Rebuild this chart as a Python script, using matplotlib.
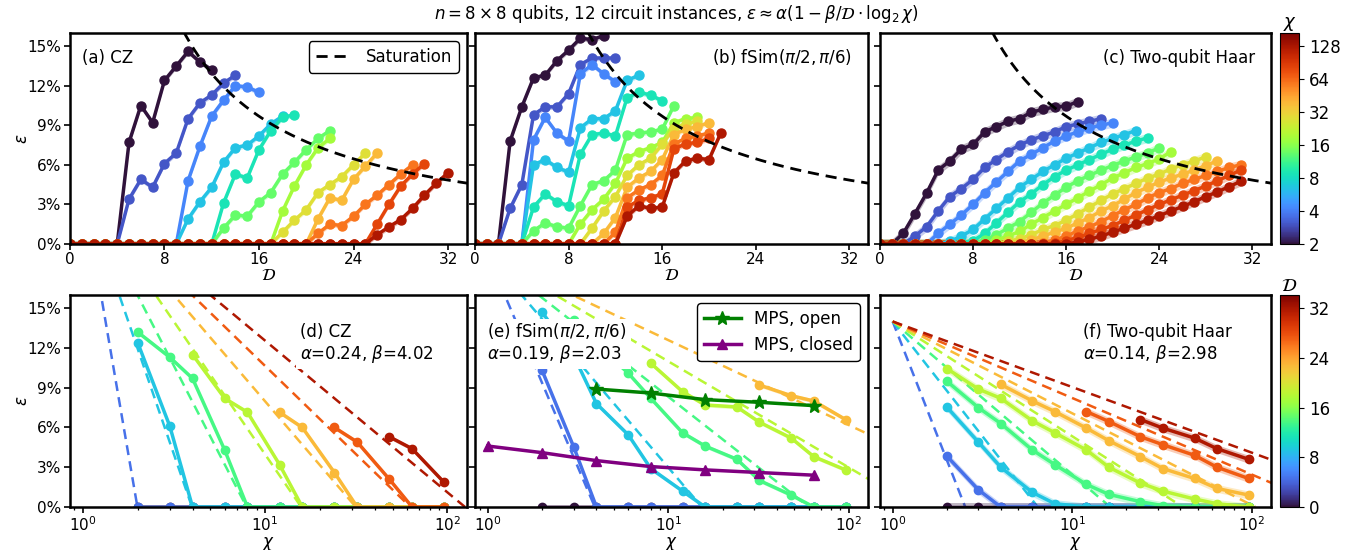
import numpy as np
import matplotlib
matplotlib.use("Agg")
import matplotlib.pyplot as plt
from matplotlib.colors import Normalize, LogNorm
from matplotlib.ticker import FuncFormatter, NullFormatter

plt.rcParams['font.size'] = 12
plt.rcParams['mathtext.fontset'] = 'dejavusans'

chis = [2, 3, 4, 6, 8, 12, 16, 24, 32, 48, 64, 96]

# top row: error in %, one curve per chi, starting at depth "onset" (zeros before)
cz_onset = [5, 5, 10, 10, 13, 13, 18, 18, 21, 21, 26, 26]
cz_vals = [
    [7.7, 10.5, 9.2, 12.4, 13.5, 14.6, 13.8, 13.2],
    [3.4, 4.9, 4.3, 6.1, 6.9, 9.5, 10.7, 11.3, 12.2, 12.8],
    [4.8, 7.4, 9.7, 10.9, 12.0, 11.9, 11.5],
    [1.9, 3.2, 4.3, 6.2, 7.3, 7.5, 8.2, 9.1, 9.7],
    [3.1, 5.3, 5.0, 7.15, 8.6, 9.6, 9.8],
    [1.2, 2.2, 2.1, 3.2, 3.9, 5.3, 6.2, 7.15, 8.0, 8.6],
    [2.5, 4.4, 6.0, 7.3, 8.0],
    [0.9, 1.8, 2.6, 3.9, 4.5, 5.1, 6.0, 6.9],
    [1.9, 3.5, 3.3, 4.9, 5.9, 6.9],
    [0.8, 1.5, 1.4, 2.1, 3.0, 3.7, 4.5, 5.3, 6.0],
    [1.5, 3.0, 4.4, 5.3, 6.1],
    [0.7, 1.3, 1.85, 2.7, 3.7, 4.6, 5.4],
]

fsim_onset = [3, 3, 5, 5, 5, 5, 9, 10, 11, 12, 13, 13]
fsim_vals = [
    [7.8, 10.4, 12.6, 12.8, 13.9, 14.7, 15.6, 15.5, 15.8],
    [2.7, 4.5, 9.8, 10.4, 10.4, 11.4, 13.6, 14.1, 14.1, 14.1],
    [7.9, 9.6, 8.4, 7.8, 12.9, 13.6, 12.9, 12.3],
    [6.0, 6.4, 5.8, 5.45, 8.8, 9.5, 9.5, 10.1, 12.4, 12.8],
    [2.8, 3.8, 3.2, 2.9, 6.8, 8.3, 8.4, 8.2, 11.1, 11.5, 11.3, 10.85],
    [1.0, 1.6, 1.3, 1.2, 2.9, 4.5, 4.8, 5.6, 8.3, 8.4, 8.5, 8.7, 10.5],
    [1.5, 2.6, 3.4, 4.6, 6.5, 7.0, 7.3, 7.7, 9.2, 9.5, 9.6],
    [1.2, 2.5, 3.6, 5.2, 6.0, 6.5, 7.55, 8.8, 9.1, 9.3],
    [0.8, 2.0, 4.3, 5.0, 5.5, 6.4, 8.3, 8.7, 8.9, 9.2],
    [0.9, 3.5, 4.1, 4.5, 5.2, 7.6, 8.0, 8.2, 8.4],
    [2.8, 3.3, 3.5, 3.8, 7.2, 7.6, 7.7, 8.0],
    [2.1, 2.9, 2.7, 2.8, 5.4, 6.3, 6.5, 6.4, 8.4],
]

haar_onset = [2, 3, 5, 6, 7, 9, 10, 11, 12, 14, 15, 17]
haar_vals = [
    [0.8, 2.3, 3.85, 5.6, 6.3, 7.2, 7.55, 8.5, 8.9, 9.3, 9.5, 10.0, 10.2, 10.4, 10.45, 10.8],
    [0.6, 1.3, 2.5, 3.6, 4.2, 4.9, 5.8, 6.4, 7.0, 7.5, 7.9, 8.2, 8.5, 8.9, 9.1, 9.3, 9.5],
    [0.8, 1.5, 2.2, 3.0, 3.9, 4.7, 5.5, 6.3, 6.8, 7.3, 7.8, 8.2, 8.5, 8.8, 9.0, 9.2],
    [0.2, 0.6, 1.1, 1.9, 2.7, 3.5, 4.3, 4.9, 5.5, 6.0, 6.5, 6.9, 7.3, 7.7, 8.0, 8.3, 8.6],
    [0.1, 0.25, 0.8, 1.6, 2.4, 3.2, 3.8, 4.5, 5.1, 5.6, 6.0, 6.4, 6.8, 7.2, 7.5, 7.8, 8.05],
    [0.3, 0.7, 1.2, 1.7, 2.4, 3.1, 3.7, 4.3, 4.8, 5.2, 5.6, 5.95, 6.3, 6.6, 6.9, 7.3],
    [0.3, 0.6, 0.95, 1.5, 2.0, 2.5, 3.0, 3.5, 4.0, 4.5, 5.0, 5.4, 5.8, 6.1, 6.45, 7.0],
    [0.2, 0.4, 0.7, 1.1, 1.4, 1.8, 2.3, 2.8, 3.3, 3.8, 4.2, 4.6, 5.0, 5.3, 5.7, 6.0, 6.3, 6.6],
    [0.1, 0.3, 0.6, 0.9, 1.2, 1.6, 2.0, 2.5, 2.9, 3.4, 3.9, 4.3, 4.7, 5.0, 5.3, 5.6, 5.95, 6.3],
    [0.1, 0.3, 0.6, 1.0, 1.3, 1.7, 2.15, 2.6, 3.0, 3.5, 3.9, 4.2, 4.6, 4.9, 5.2, 5.5, 5.8, 6.0],
    [0.05, 0.25, 0.5, 0.8, 1.1, 1.4, 1.8, 2.2, 2.6, 3.0, 3.35, 3.7, 4.05, 4.4, 4.8, 5.2, 5.6],
    [0.15, 0.35, 0.6, 0.9, 1.2, 1.5, 1.8, 2.15, 2.5, 2.85, 3.2, 3.6, 3.95, 4.35, 4.75],
]

# bottom row: error in % vs chi at fixed depth; values start at chis[first]
cz_D = [0, 4, 8, 12, 16, 20, 24, 28]
cz_first = [0, 0, 0, 0, 2, 5, 7, 9]
cz_byD = [
    [0, 0, 0, 0, 0, 0, 0, 0, 0, 0, 0, 0],
    [0, 0, 0, 0, 0, 0, 0, 0, 0, 0, 0, 0],
    [12.4, 6.1, 0, 0, 0, 0, 0, 0, 0, 0, 0, 0],
    [13.2, 11.3, 9.7, 4.3, 0, 0, 0, 0, 0, 0, 0, 0],
    [11.5, 8.2, 7.15, 3.2, 0, 0, 0, 0, 0, 0],
    [7.15, 6.0, 2.6, 0, 0, 0, 0],
    [6.0, 4.9, 2.1, 0, 0],
    [5.3, 4.4, 1.85],
]

fsim_D = [0, 4, 8, 12, 16, 20]
fsim_first = [0, 0, 0, 1, 4, 8]
fsim_byD = [
    [0, 0, 0, 0, 0, 0, 0, 0, 0, 0, 0, 0],
    [10.3, 4.5, 0, 0, 0, 0, 0, 0, 0, 0, 0, 0],
    [14.7, 11.4, 7.8, 5.45, 2.9, 1.2, 0, 0, 0, 0, 0, 0],
    [14.1, 12.3, 10.1, 8.2, 5.6, 4.6, 3.6, 2.0, 0.9, 0, 0],
    [10.85, 8.7, 7.7, 7.55, 6.4, 5.2, 3.8, 2.8],
    [9.2, 8.4, 8.0, 6.6],
]

haar_D = [0, 4, 8, 12, 16, 20, 24, 28]
haar_first = [0, 0, 0, 0, 0, 2, 5, 7]
haar_byD = [
    [0, 0, 0, 0, 0, 0, 0, 0, 0, 0, 0, 0],
    [3.85, 1.3, 0, 0, 0, 0, 0, 0, 0, 0, 0, 0],
    [7.55, 4.9, 3.0, 1.1, 0.25, 0, 0, 0, 0, 0, 0, 0],
    [9.5, 7.5, 6.3, 4.3, 3.2, 1.7, 0.95, 0.4, 0.1, 0, 0, 0],
    [10.45, 8.9, 8.2, 6.5, 5.6, 4.3, 3.0, 1.8, 1.2, 0.6, 0.25, 0],
    [9.25, 8.0, 7.2, 5.95, 5.0, 3.8, 2.9, 2.15, 1.4, 0.9],
    [7.2, 6.45, 5.3, 4.7, 3.9, 3.0, 2.15],
    [6.6, 5.95, 5.2, 4.4, 3.6],
]

# MPS reference curves for fSim
mps_open_chi = [4, 8, 16, 32, 64]
mps_open = [8.9, 8.6, 8.1, 7.9, 7.65]
mps_closed_chi = [1, 2, 4, 8, 16, 32, 64]
mps_closed = [4.6, 4.1, 3.5, 3.05, 2.8, 2.6, 2.4]

# fit parameters
fits = [(0.24, 4.02), (0.19, 2.03), (0.14, 2.98)]
sat_c = 155.0  # saturation error (%) ~ sat_c / D

cmap = plt.get_cmap('turbo')
chi_norm = LogNorm(2, 128)
D_norm = Normalize(0, 30)
pct = FuncFormatter(lambda v, p: f"{v:.0f}%")

fig = plt.figure(figsize=(13.53, 5.5), dpi=100)
lefts = [0.0517, 0.3511, 0.6504]
widths = [0.2934, 0.2905, 0.2890]
top_axes = [fig.add_axes([l, 0.5564, w, 0.3836]) for l, w in zip(lefts, widths)]
bot_axes = [fig.add_axes([l, 0.0782, w, 0.3855]) for l, w in zip(lefts, widths)]


def style(ax):
    for s in ax.spines.values():
        s.set_linewidth(1.8)
    ax.tick_params(direction='out', length=4, width=1.2, labelsize=11, pad=2)
    ax.tick_params(which='minor', direction='out', length=2.5, width=0.9)
    ax.set_ylim(0, 16)
    ax.set_yticks([0, 3, 6, 9, 12, 15])
    ax.yaxis.set_major_formatter(pct)


text_box = dict(facecolor='white', edgecolor='none', pad=3)

top_sets = [(cz_onset, cz_vals, 0.2), (fsim_onset, fsim_vals, 0.2), (haar_onset, haar_vals, 0.35)]
top_titles = ["(a) CZ", r"(b) fSim($\pi/2, \pi/6$)", "(c) Two-qubit Haar"]

for k, ax in enumerate(top_axes):
    onsets, vals, band = top_sets[k]
    for chi, d0, v in zip(chis, onsets, vals):
        y = np.r_[np.zeros(d0), v]
        x = np.arange(len(y))
        c = cmap(chi_norm(chi))
        ax.fill_between(x, y - band, y + band, color=c, alpha=0.3, lw=0)
        ax.plot(x, y, '-o', color=c, lw=2.5, ms=6.5)
    Dg = np.linspace(8, 34, 300)
    ax.plot(Dg, sat_c / Dg, '--', color='black', lw=2, dashes=(4, 2.5),
            zorder=5, label='Saturation')
    ax.set_xlim(0, 33.6)
    ax.set_xticks([0, 8, 16, 24, 32])
    style(ax)
    ax.set_xlabel(r'$\mathcal{D}$', labelpad=-1)
    if k == 0:
        ax.set_ylabel(r'$\varepsilon$', labelpad=-2)
        ax.text(0.03, 0.86, top_titles[k], transform=ax.transAxes, fontsize=12, bbox=text_box)
        ax.legend(loc='upper right', fontsize=12, framealpha=1, edgecolor='black',
                  handlelength=2.2, borderpad=0.4)
    else:
        ax.yaxis.set_major_formatter(NullFormatter())
        ax.text(0.96, 0.86, top_titles[k], transform=ax.transAxes, fontsize=12,
                ha='right', bbox=text_box)

bot_sets = [(cz_D, cz_first, cz_byD, 0.15), (fsim_D, fsim_first, fsim_byD, 0.15),
            (haar_D, haar_first, haar_byD, 0.3)]
bot_titles = ["(d) CZ", r"(e) fSim($\pi/2, \pi/6$)", "(f) Two-qubit Haar"]

for k, ax in enumerate(bot_axes):
    Ds, firsts, byD, band = bot_sets[k]
    alpha, beta = fits[k]
    ax.set_xscale('log')
    # fitted lines, eps = alpha (1 - beta / D * log2 chi), down to zero
    for D in Ds:
        if D == 0:
            continue
        c = cmap(D_norm(D))
        xx = np.geomspace(1, min(2 ** (D / beta), 140), 300)
        yy = 100 * alpha * (1 - beta / D * np.log2(xx))
        ax.plot(xx, np.clip(yy, 0, None), '--', color=c, lw=1.8, dashes=(4, 2.5), zorder=1.5)
    for D, i0, v in zip(Ds, firsts, byD):
        c = cmap(D_norm(D))
        x = np.array(chis[i0:i0 + len(v)])
        y = np.array(v, dtype=float)
        ax.fill_between(x, y - band, y + band, color=c, alpha=0.3, lw=0, zorder=1.8)
        ax.plot(x, y, '-o', color=c, lw=2.5, ms=6, zorder=2)
    ax.set_xlim(0.85, 128)
    style(ax)
    ax.set_xlabel(r'$\chi$', labelpad=0.5)
    label = bot_titles[k] + "\n" + rf"$\alpha$={alpha:.2f}, $\beta$={beta:.2f}"
    if k == 0:
        ax.set_ylabel(r'$\varepsilon$', labelpad=-2)
        ax.text(0.58, 0.70, label, transform=ax.transAxes, fontsize=12,
                linespacing=1.1, bbox=text_box)
    elif k == 1:
        ax.yaxis.set_major_formatter(NullFormatter())
        ax.plot(mps_open_chi, mps_open, '-*', color='green', lw=2.5, ms=10,
                zorder=4, label='MPS, open')
        ax.plot(mps_closed_chi, mps_closed, '-^', color='purple', lw=2.5, ms=7,
                zorder=4, label='MPS, closed')
        ax.text(0.03, 0.70, label, transform=ax.transAxes, fontsize=12,
                linespacing=1.1, bbox=text_box)
        ax.legend(loc='upper right', fontsize=12, framealpha=1, edgecolor='black',
                  handlelength=2.2, borderpad=0.4)
    else:
        ax.yaxis.set_major_formatter(NullFormatter())
        ax.text(0.52, 0.70, label, transform=ax.transAxes, fontsize=12,
                linespacing=1.1, bbox=text_box)

# colorbars
cax1 = fig.add_axes([0.9461, 0.5564, 0.0140, 0.3836])
sm1 = plt.cm.ScalarMappable(norm=LogNorm(2, 2 * 2 ** (6 * 16 / 15)), cmap=cmap)
cb1 = fig.colorbar(sm1, cax=cax1)
cb1.set_ticks([2, 4, 8, 16, 32, 64, 128])
cb1.set_ticklabels(['2', '4', '8', '16', '32', '64', '128'])
cb1.ax.minorticks_off()
cb1.ax.tick_params(labelsize=12)
cax1.set_title(r'$\chi$', fontsize=13, pad=3)

cax2 = fig.add_axes([0.9461, 0.0782, 0.0140, 0.3855])
sm2 = plt.cm.ScalarMappable(norm=Normalize(0, 32 * 16 / 15), cmap=cmap)
cb2 = fig.colorbar(sm2, cax=cax2)
cb2.set_ticks([0, 8, 16, 24, 32])
cb2.ax.tick_params(labelsize=12)
cax2.set_title(r'$\mathcal{D}$', fontsize=13, pad=3)

fig.suptitle(r"$n=8\times8$ qubits, 12 circuit instances, "
             r"$\varepsilon\approx\alpha(1-\beta/\mathcal{D}\cdot\log_2\chi)$",
             y=0.995, fontsize=12)

fig.savefig('out.png', dpi=100)
